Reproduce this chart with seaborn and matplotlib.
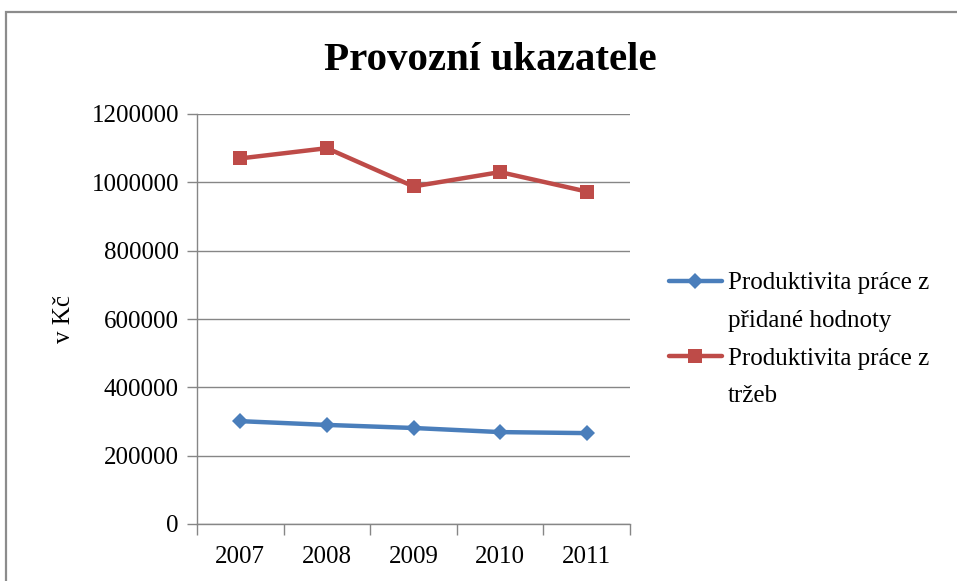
import matplotlib
matplotlib.use("Agg")
import matplotlib.pyplot as plt
from matplotlib.lines import Line2D
from matplotlib.patches import Rectangle
import pandas as pd
import seaborn as sns

years = [2007, 2008, 2009, 2010, 2011]
pridana_hodnota = [301000, 290000, 281000, 269000, 266000]
trzby = [1070000, 1100000, 988000, 1030000, 973000]
series_names = ["Produktivita práce z přidané hodnoty", "Produktivita práce z tržeb"]
y_ticks = [0, 200000, 400000, 600000, 800000, 1000000, 1200000]

df = pd.DataFrame({
    "rok": years * 2,
    "hodnota": pridana_hodnota + trzby,
    "rada": [series_names[0]] * 5 + [series_names[1]] * 5,
})

sns.set_style("white")
plt.rcParams["font.family"] = ["Liberation Serif", "DejaVu Serif"]
plt.rcParams["text.color"] = "black"
plt.rcParams["axes.labelcolor"] = "black"
plt.rcParams["xtick.color"] = "black"
plt.rcParams["ytick.color"] = "black"

fig = plt.figure(figsize=(9.57, 5.81), dpi=100)
ax = fig.add_axes([197 / 957, 1 - 524 / 581, 433 / 957, 410 / 581])

blue = "#4a7ebb"
red = "#be4b48"
sns.lineplot(data=df, x="rok", y="hodnota", hue="rada", style="rada",
             palette=[blue, red], markers={series_names[0]: "D", series_names[1]: "s"},
             dashes=False, linewidth=3.2, markersize=9, markeredgewidth=0,
             legend=False, ax=ax)
# diamonds a bit smaller than squares
ax.lines[0].set_markersize(8)
ax.lines[1].set_markersize(10.5)

ax.set_xlim(2006.5, 2011.5)
ax.set_ylim(0, 1200000)
ax.set_yticks(y_ticks)
ax.set_yticklabels([str(v) for v in y_ticks], fontsize=18)
ax.set_xticks([y - 0.5 for y in years] + [years[-1] + 0.5])
ax.set_xticklabels([])
ax.set_xticks(years, minor=True)
ax.set_xticklabels([str(y) for y in years], minor=True, fontsize=18)
ax.tick_params(axis="x", which="major", bottom=True, length=8, color="#868686", width=1)
ax.tick_params(axis="x", which="minor", bottom=True, length=0, pad=16, labelcolor="black")
ax.tick_params(axis="y", left=True, length=7, color="#868686", width=1, pad=6,
               labelcolor="black")
ax.yaxis.grid(True, color="#868686", linewidth=1)
ax.set_axisbelow(True)
for s in ["top", "right"]:
    ax.spines[s].set_visible(False)
for s in ["left", "bottom"]:
    ax.spines[s].set_color("#868686")
    ax.spines[s].set_linewidth(1)
ax.set_xlabel("")
ax.set_ylabel("v Kč", fontsize=18, labelpad=12, color="black")

fig.text(490 / 957, 1 - 60 / 581, "Provozní ukazatele", ha="center", va="center",
         fontsize=29.5, fontweight="bold", color="black")

blank = Line2D([], [], color="none")
handles = [ax.lines[0], blank, ax.lines[1], blank]
labels = ["Produktivita práce z", "přidané hodnoty", "Produktivita práce z", "tržeb"]
leg = fig.legend(handles, labels, loc="upper left", bbox_to_anchor=(669 / 957, 1 - 272 / 581),
                 frameon=False, fontsize=18, handlelength=2.1, handletextpad=0.25,
                 labelspacing=0.6, borderpad=0, borderaxespad=0)
for t in leg.get_texts():
    t.set_color("black")

fig.patches.append(Rectangle((6 / 957, -0.1), 1.2, 1.1 - 12 / 581,
                             transform=fig.transFigure, fill=False,
                             edgecolor="#8c8c8c", linewidth=1.6))

fig.savefig("out.png", dpi=100, facecolor="white")
